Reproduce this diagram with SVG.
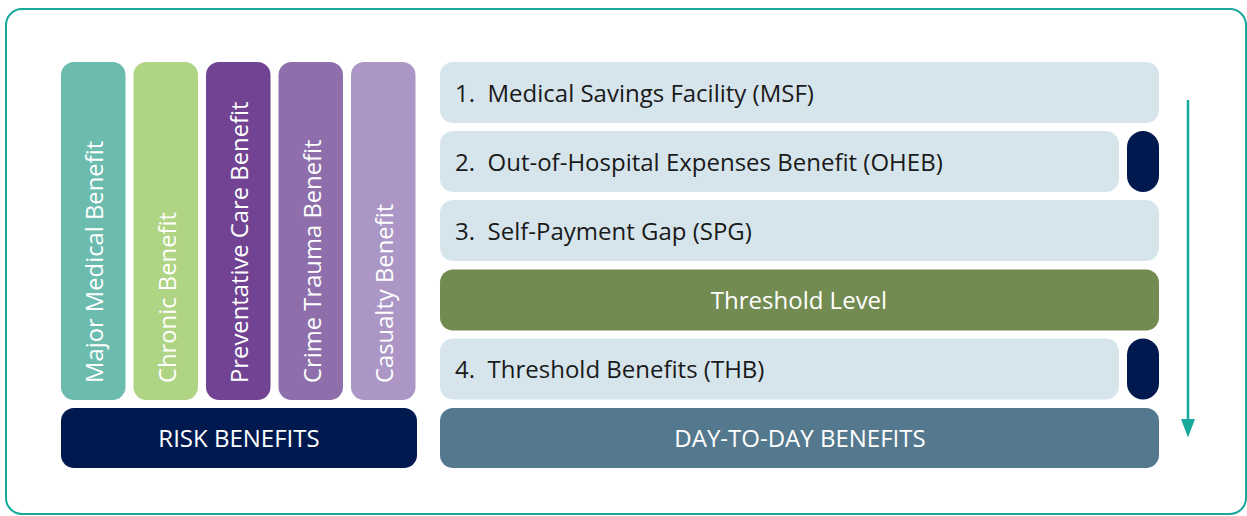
<svg xmlns="http://www.w3.org/2000/svg" width="1247" height="516" viewBox="0 0 1247 516">
<style>
.t{font-family:"Open Sans","Noto Sans","Liberation Sans",sans-serif;font-size:24px}
.w{fill:#ffffff}
.d{fill:#1a1a1a}
.v{font-family:"Open Sans","Noto Sans","Liberation Sans",sans-serif;font-size:23.8px;fill:#ffffff}
.row{fill:#d6e5ec}
.navy{fill:#00194f}
</style>
<rect x="6" y="9" width="1240" height="505" rx="16" fill="#ffffff" stroke="#17a99b" stroke-width="2"/>
<g id="col-major-medical"><rect x="61" y="62" width="64.5" height="338" rx="13" fill="#6bbcae"/><text class="v" transform="translate(102.5,383) rotate(-90)">Major Medical Benefit</text></g>
<g id="col-chronic"><rect x="133.5" y="62" width="64.5" height="338" rx="13" fill="#afd483"/><text class="v" transform="translate(175.5,383) rotate(-90)">Chronic Benefit</text></g>
<g id="col-preventative"><rect x="206" y="62" width="64.5" height="338" rx="13" fill="#714392"/><text class="v" transform="translate(248,383) rotate(-90)">Preventative Care Benefit</text></g>
<g id="col-crime"><rect x="278.5" y="62" width="64.5" height="338" rx="13" fill="#8e6fab"/><text class="v" transform="translate(320.5,383) rotate(-90)">Crime Trauma Benefit</text></g>
<g id="col-casualty"><rect x="351" y="62" width="64.5" height="338" rx="13" fill="#ab96c5"/><text class="v" transform="translate(393,383) rotate(-90)">Casualty Benefit</text></g>
<g id="risk-benefits"><rect x="61" y="408" width="356" height="60" rx="13" class="navy"/><text class="t w" x="239" y="447" text-anchor="middle">RISK BENEFITS</text></g>
<g id="msf"><rect x="440" y="62" width="719" height="61" rx="13" class="row"/><text class="t d" x="455" y="101.5">1.</text><text class="t d" x="487.5" y="101.5">Medical Savings Facility (MSF)</text></g>
<g id="oheb"><rect x="440" y="131" width="679" height="61" rx="13" class="row"/><text class="t d" x="455" y="170.5">2.</text><text class="t d" x="487.5" y="170.5">Out-of-Hospital Expenses Benefit (OHEB)</text></g>
<g id="oheb-marker"><rect x="1127" y="131" width="32" height="61" rx="16" class="navy"/></g>
<g id="spg"><rect x="440" y="200" width="719" height="61" rx="13" class="row"/><text class="t d" x="455" y="240">3.</text><text class="t d" x="487.5" y="240">Self-Payment Gap (SPG)</text></g>
<g id="threshold-level"><rect x="440" y="269.5" width="719" height="61" rx="13" fill="#718b51"/><text class="t w" x="799" y="308.5" text-anchor="middle">Threshold Level</text></g>
<g id="thb"><rect x="440" y="338.5" width="679" height="61" rx="13" class="row"/><text class="t d" x="455" y="378">4.</text><text class="t d" x="487.5" y="378">Threshold Benefits (THB)</text></g>
<g id="thb-marker"><rect x="1127" y="338.5" width="32" height="61" rx="16" class="navy"/></g>
<g id="day-to-day"><rect x="440" y="408" width="719" height="60" rx="13" fill="#54788d"/><text class="t w" x="800" y="447" text-anchor="middle">DAY-TO-DAY BENEFITS</text></g>
<g id="connectors">
<line x1="1188" y1="100" x2="1188" y2="422" stroke="#17a99b" stroke-width="2.5"/>
<polygon points="1181,419 1195,419 1188,437.5" fill="#17a99b"/>
</g>
</svg>
